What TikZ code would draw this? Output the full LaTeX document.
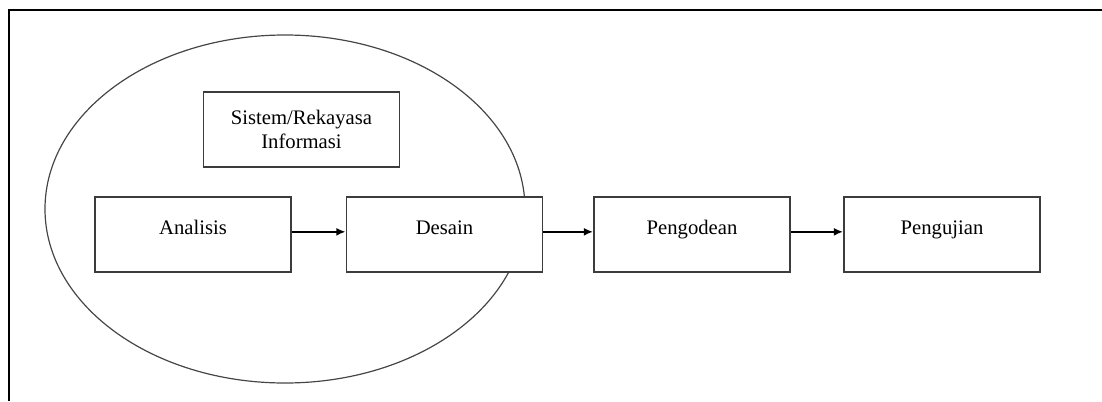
\documentclass[tikz,border=0pt]{standalone}
\usepackage{fontspec}
\setmainfont{Liberation Serif}
\usepackage{tikz}
\usetikzlibrary{arrows.meta, positioning}
\definecolor{ovalgray}{RGB}{70,70,70}
\definecolor{boxgray}{RGB}{60,60,60}

\tikzset{
    stagebox/.style={draw=boxgray, line width=1.3pt, fill=white, minimum width=147pt,
        minimum height=56pt, align=center, font=\fontsize{15.5}{18.5}\selectfont},
    stepbox/.style={stagebox, text height=0.8em, text depth=0.8em},
    flowarrow/.style={-{Latex[length=7pt, width=6pt]}, line width=1.8pt}
}

\begin{document}
\begin{tikzpicture}[x=0.75pt, y=0.75pt]
    \useasboundingbox (0,0) rectangle (1102,401);

    % Frame
    \draw[line width=2.2pt] (9,0) -- (9,391) -- (1102,391);

    % Oval round the first stages
    \draw[ovalgray, line width=0.9pt] (285,192) ellipse [x radius=240, y radius=174];

    % Stages
    \node[stagebox] (sistem) at (301.5,271.5) {Sistem/Rekayasa\\Informasi};
    \node[stepbox] (analisis) at (193,166.5) {Analisis};
    \node[stepbox] (desain) at (444.5,166.5) {Desain};
    \node[stepbox] (pengodean) at (692,166.5) {Pengodean};
    \node[stepbox] (pengujian) at (942,166.5) {Pengujian};

    % Flow
    \draw[flowarrow] ([yshift=2pt]analisis.east) -- ([yshift=2pt]desain.west);
    \draw[flowarrow] ([yshift=2pt]desain.east) -- ([yshift=2pt]pengodean.west);
    \draw[flowarrow] ([yshift=2pt]pengodean.east) -- ([yshift=2pt]pengujian.west);
\end{tikzpicture}
\end{document}
